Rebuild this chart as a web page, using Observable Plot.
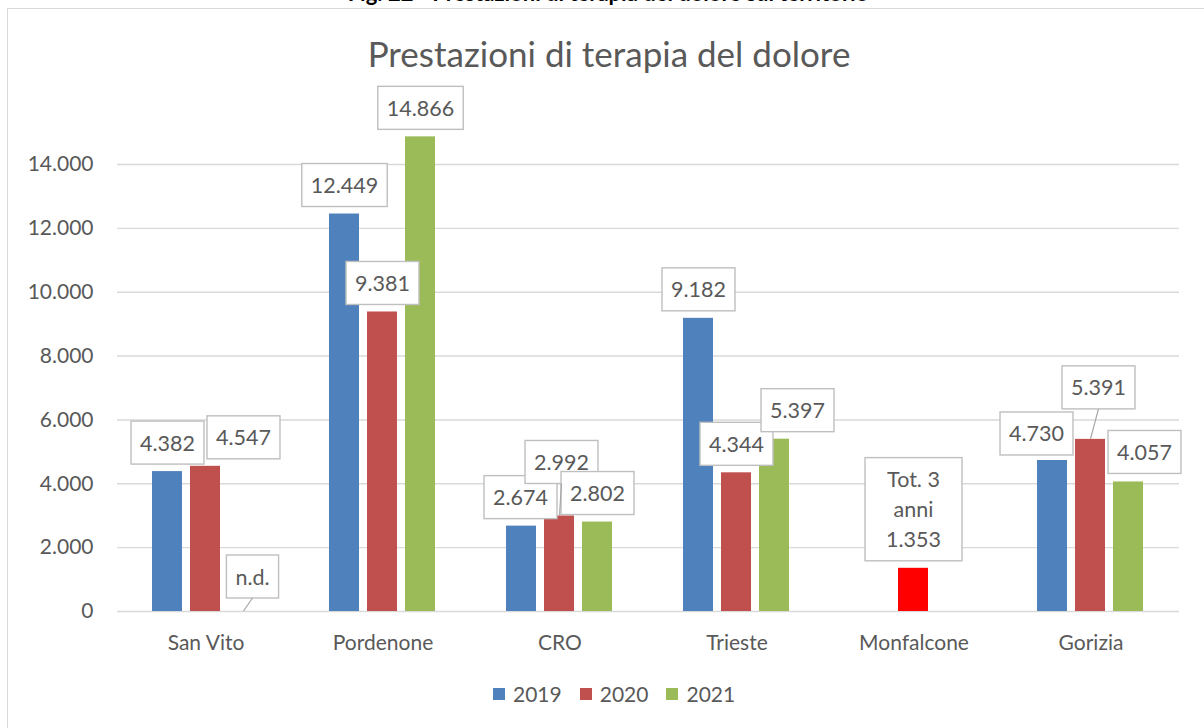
<!DOCTYPE html>
<html>
<head>
<meta charset="utf-8">
<script src="https://cdn.jsdelivr.net/npm/d3@7"></script>
<script src="https://cdn.jsdelivr.net/npm/@observablehq/plot@0.6"></script>
<style>
  html, body { margin: 0; padding: 0; background: #fff; }
  body { width: 1204px; height: 728px; overflow: hidden; position: relative; font-family: Lato, "Open Sans", sans-serif; }
  #caption { position: absolute; left: 0; top: -18px; width: 1216px; text-align: center; font: bold 22px/22px Lato, sans-serif; color: #000; white-space: nowrap; }
  #frame { position: absolute; left: 7px; top: 8px; width: 1220px; height: 740px; border: 1px solid #d9d9d9; box-sizing: border-box; }
  #title { position: absolute; left: 0; top: 36px; width: 1218px; text-align: center; font: 35px/35px Lato, sans-serif; color: #595959; white-space: nowrap; }
  #chart { position: absolute; left: 0; top: 0; }
  #legend { position: absolute; left: 493px; top: 682px; display: flex; align-items: center; font: 21px/24px Lato, sans-serif; color: #595959; }
  #legend .item { display: flex; align-items: center; margin-right: 18px; }
  #legend .sw { width: 12px; height: 12px; margin-right: 8px; }
</style>
</head>
<body>
<div id="caption">Fig. 22 - Prestazioni di terapia del dolore sul territorio</div>
<div id="frame"></div>
<div id="title">Prestazioni di terapia del dolore</div>
<div id="chart"></div>
<div id="legend"></div>
<script>
// ---- data ----
const sites = ["San Vito", "Pordenone", "CRO", "Trieste", "Monfalcone", "Gorizia"];
const years = ["2019", "2020", "2021"];
const values2019 = [4382, 12449, 2674, 9182, null, 4730];
const values2020 = [4547, 9381, 2992, 4344, 1353, 5391];
const values2021 = [null, 14866, 2802, 5397, null, 4057];
const yTicks = [0, 2000, 4000, 6000, 8000, 10000, 12000, 14000];
const seriesColors = ["#4F81BD", "#C0504D", "#9BBB59"];
const highlightBar = { site: "Monfalcone", year: "2020", color: "#FF0000" };
const textOverrides = [
  { site: "San Vito", year: "2021", text: "n.d." },
  { site: "Monfalcone", year: "2020", text: "Tot. 3\nanni\n1.353" }
];
// label nudges in pixels (as moved by hand in the original chart)
const labelNudge = [
  { site: "San Vito", year: "2020", dx: 38, dy: 0 },
  { site: "San Vito", year: "2021", dx: 9, dy: -6 },
  { site: "CRO", year: "2019", dx: -1, dy: 0 },
  { site: "CRO", year: "2020", dx: 2, dy: -25 },
  { site: "Trieste", year: "2021", dx: 23, dy: 0 },
  { site: "Gorizia", year: "2019", dx: -16, dy: 2 },
  { site: "Gorizia", year: "2020", dx: 8, dy: -23 },
  { site: "Gorizia", year: "2021", dx: 16, dy: -1 }
];

// ---- build table ----
const fmt = d3.formatLocale({ decimal: ",", thousands: ".", grouping: [3] }).format(",d");
const series = [values2019, values2020, values2021];
const rows = [];
sites.forEach((site, i) => {
  years.forEach((year, j) => {
    const value = series[j][i];
    let color = seriesColors[j];
    if (site === highlightBar.site && year === highlightBar.year) color = highlightBar.color;
    const ov = textOverrides.find(o => o.site === site && o.year === year);
    const text = ov ? ov.text : (value == null ? null : fmt(value));
    const n = labelNudge.find(o => o.site === site && o.year === year) || { dx: 0, dy: 0 };
    rows.push({ site, year, value, color, text, ndx: n.dx, ndy: n.dy });
  });
});
const labels = rows.filter(r => r.text != null);

const textColor = "#595959";
const chart = Plot.plot({
  width: 1204,
  height: 665,
  marginLeft: 114,
  marginRight: 23,
  marginTop: 164,
  marginBottom: 54,
  style: { fontFamily: "Lato, 'Open Sans', sans-serif", fontSize: "21px", color: textColor, background: "transparent", overflow: "visible" },
  fx: { domain: sites, padding: 0, label: null },
  x: { domain: years, paddingInner: 0.2, paddingOuter: 0.88, axis: null },
  y: { domain: [0, 14000], label: null },
  color: { type: "identity" },
  marks: [
    Plot.gridY(yTicks, { stroke: "#d9d9d9", strokeOpacity: 1, strokeWidth: 1.4 }),
    Plot.axisY(yTicks, { tickSize: 0, tickPadding: 24, tickFormat: d => fmt(d), fontSize: 21, fill: textColor, label: null }),
    Plot.axisFx({ anchor: "bottom", tickSize: 0, tickPadding: 24, fontSize: 21, fill: textColor, label: null }),
    Plot.barY(rows.filter(r => r.value != null), { fx: "site", x: "year", y: "value", fill: "color" }),
    ...labels.map((l, k) => Plot.text([l], {
      fx: "site", x: "year", y: d => d.value == null ? 0 : d.value,
      text: "text", dx: l.ndx, dy: -13, lineAnchor: "bottom", lineHeight: 1.4,
      fontSize: 21.5, fill: textColor, ariaDescription: "lbl-" + k
    }))
  ]
});
document.getElementById("chart").append(chart);

// ---- label boxes & leader lines ----
const ns = "http://www.w3.org/2000/svg";
const yS = chart.scale("y");
const svgBox = chart.getBoundingClientRect();
labels.forEach((l, k) => {
  const gs = chart.querySelectorAll(`g[aria-description="lbl-${k}"]`);
  let t = null;
  gs.forEach(g => { if (!t) t = g.querySelector("text"); });
  if (!t) return;
  const bb = t.getBBox();
  const multi = l.text.includes("\n");
  const padX = multi ? 21 : 9, padY = 8.5;
  const rect = document.createElementNS(ns, "rect");
  rect.setAttribute("x", bb.x - padX);
  rect.setAttribute("y", bb.y - padY);
  rect.setAttribute("width", bb.width + 2 * padX);
  rect.setAttribute("height", bb.height + 2 * padY);
  rect.setAttribute("fill", "#ffffff");
  rect.setAttribute("stroke", "#bfbfbf");
  rect.setAttribute("stroke-width", "1.4");
  if (t.getAttribute("transform")) rect.setAttribute("transform", t.getAttribute("transform"));
  const wrap = document.createElementNS(ns, "g");
  t.parentNode.insertBefore(wrap, t);
  wrap.appendChild(rect);
  wrap.appendChild(t);
  const anchorY = yS.apply(l.value == null ? 0 : l.value);
  const desired = anchorY - 7 + l.ndy;
  const actual = rect.getBoundingClientRect().bottom - svgBox.top;
  wrap.setAttribute("transform", `translate(0,${desired - actual})`);
  if (l.ndy < -4) {
    const rb = rect.getBoundingClientRect();
    const cx = (rb.left + rb.right) / 2 - svgBox.left;
    const by = rb.bottom - svgBox.top;
    const line = document.createElementNS(ns, "line");
    line.setAttribute("x1", cx - l.ndx);
    line.setAttribute("y1", anchorY);
    line.setAttribute("x2", cx);
    line.setAttribute("y2", by);
    line.setAttribute("stroke", "#a6a6a6");
    line.setAttribute("stroke-width", "1.2");
    chart.appendChild(line);
  }
});

// ---- legend ----
const legend = document.getElementById("legend");
years.forEach((y, j) => {
  const item = document.createElement("div");
  item.className = "item";
  const sw = document.createElement("div");
  sw.className = "sw";
  sw.style.background = seriesColors[j];
  const tx = document.createElement("span");
  tx.textContent = y;
  item.append(sw, tx);
  legend.append(item);
});
</script>
</body>
</html>
